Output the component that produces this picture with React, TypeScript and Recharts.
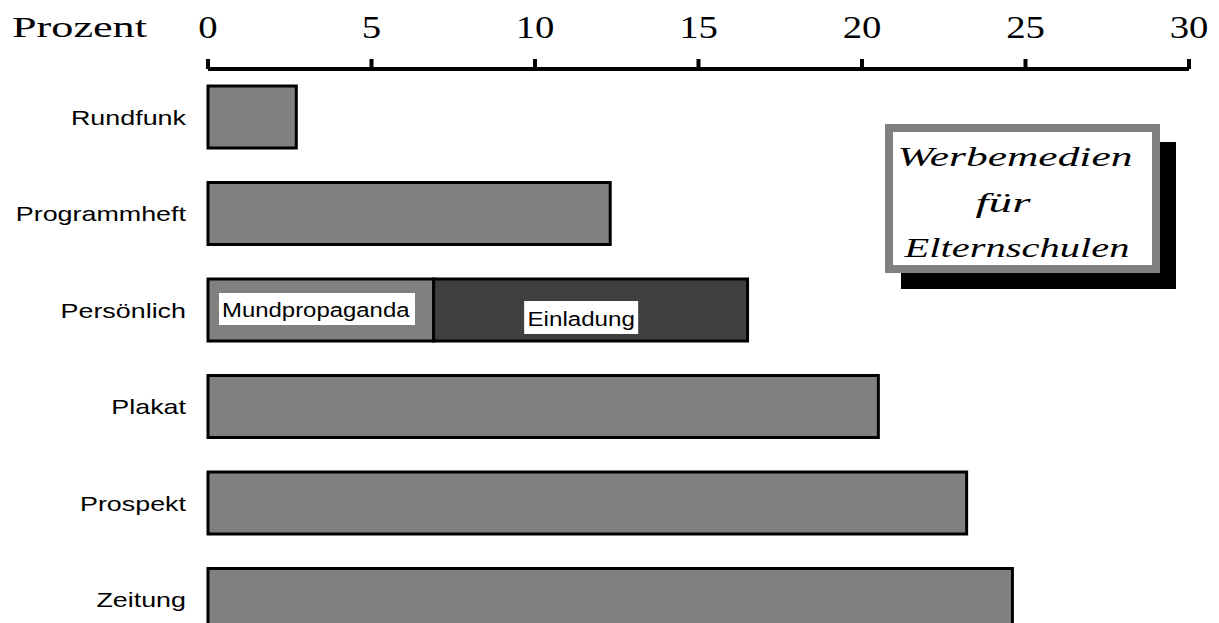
import React from 'react';
import { BarChart, Bar, XAxis, YAxis } from 'recharts';

const categories = ['Rundfunk', 'Programmheft', 'Persönlich', 'Plakat', 'Prospekt', 'Zeitung'];
const mainValues = [2.7, 12.3, 6.9, 20.5, 23.2, 24.6];
const einladungValues = [0, 0, 9.6, 0, 0, 0];
const segmentLabels = ['Mundpropaganda', 'Einladung'];
const xTicks = [0, 5, 10, 15, 20, 25, 30];
const axisTitle = 'Prozent';
const titleLines = ['Werbemedien', 'für', 'Elternschulen'];

const data = categories.map((name, i) => ({ name, main: mainValues[i], einladung: einladungValues[i] }));

const SERIF = '"Liberation Serif", "Times New Roman", serif';
const SANS = '"Liberation Sans", Arial, sans-serif';

const XTick = (props: any) => {
  const { x, y, payload } = props;
  return (
    <g transform={`translate(${x},${y}) scale(1.25,1)`}>
      <text x={0} y={0} textAnchor="middle" fontFamily={SERIF} fontSize={31} fill="#000">
        {payload.value}
      </text>
    </g>
  );
};

const YTick = (props: any) => {
  const { x, y, payload } = props;
  return (
    <g transform={`translate(${x},${y}) scale(1.28,1)`}>
      <text x={0} y={0} dy="0.35em" textAnchor="end" fontFamily={SANS} fontSize={21} fill="#000">
        {payload.value}
      </text>
    </g>
  );
};

const MainShape = (props: any) => {
  const { x, y, width, height, index, fill } = props;
  if (!(width > 0) || !(height > 0)) return null;
  return (
    <g>
      <rect x={x} y={y} width={width} height={height} fill={fill} stroke="#000" strokeWidth={3} />
      {index === 2 && (
        <g>
          <rect x={x + 11} y={y + 14} width={196} height={32} fill="#fff" />
          <g transform={`translate(${x + 14},${y + 38}) scale(1.14,1)`}>
            <text x={0} y={0} fontFamily={SANS} fontSize={21} fill="#000">{segmentLabels[0]}</text>
          </g>
        </g>
      )}
    </g>
  );
};

const EinlShape = (props: any) => {
  const { x, y, width, height, index, fill } = props;
  if (!(width > 0) || !(height > 0)) return null;
  const cx = x + width * 0.47;
  return (
    <g>
      <rect x={x} y={y} width={width} height={height} fill={fill} stroke="#000" strokeWidth={3} />
      {index === 2 && (
        <g>
          <rect x={cx - 57} y={y + 22} width={114} height={33} fill="#fff" />
          <g transform={`translate(${cx},${y + 47}) scale(1.15,1)`}>
            <text x={0} y={0} textAnchor="middle" fontFamily={SANS} fontSize={21} fill="#000">{segmentLabels[1]}</text>
          </g>
        </g>
      )}
    </g>
  );
};

export default function App() {
  return (
    <div style={{ position: 'relative', width: 1211, height: 615, overflow: 'hidden' }}>
      <BarChart
        width={1211}
        height={640}
        data={data}
        layout="vertical"
        margin={{ top: 0, right: 30, bottom: 0, left: 0 }}
        barSize={62}
      >
        <XAxis
          type="number"
          orientation="top"
          domain={[0, 30]}
          ticks={xTicks}
          height={61}
          axisLine={{ stroke: '#000', strokeWidth: 4 }}
          tickLine={{ stroke: '#000', strokeWidth: 4 }}
          tickSize={10}
          tickMargin={21}
          tick={<XTick />}
          interval={0}
        />
        <YAxis
          type="category"
          dataKey="name"
          width={200}
          axisLine={false}
          tickLine={false}
          tickSize={0}
          tickMargin={22}
          tick={<YTick />}
          interval={0}
        />
        <Bar dataKey="main" stackId="s" fill="#808080" shape={<MainShape />} isAnimationActive={false} />
        <Bar dataKey="einladung" stackId="s" fill="#404040" shape={<EinlShape />} isAnimationActive={false} />
      </BarChart>
      <svg
        width={1211}
        height={615}
        style={{ position: 'absolute', left: 0, top: 0, pointerEvents: 'none' }}
      >
        <text x={4} y={29} fontFamily={SERIF} fontSize={30} textLength={135} lengthAdjust="spacingAndGlyphs" fill="#000">
          {axisTitle}
        </text>
        <rect x={893} y={134} width={275} height={147} fill="#000" />
        <rect x={881} y={120} width={267} height={141} fill="#fff" stroke="#808080" strokeWidth={8} />
        <text x={1007} y={158} textAnchor="middle" fontFamily={SERIF} fontStyle="italic" fontSize={27} textLength={235} lengthAdjust="spacingAndGlyphs" fill="#000">
          {titleLines[0]}
        </text>
        <text x={995} y={204} textAnchor="middle" fontFamily={SERIF} fontStyle="italic" fontSize={28} textLength={55} lengthAdjust="spacingAndGlyphs" fill="#000">
          {titleLines[1]}
        </text>
        <text x={1009} y={249} textAnchor="middle" fontFamily={SERIF} fontStyle="italic" fontSize={27} textLength={225} lengthAdjust="spacingAndGlyphs" fill="#000">
          {titleLines[2]}
        </text>
      </svg>
    </div>
  );
}
